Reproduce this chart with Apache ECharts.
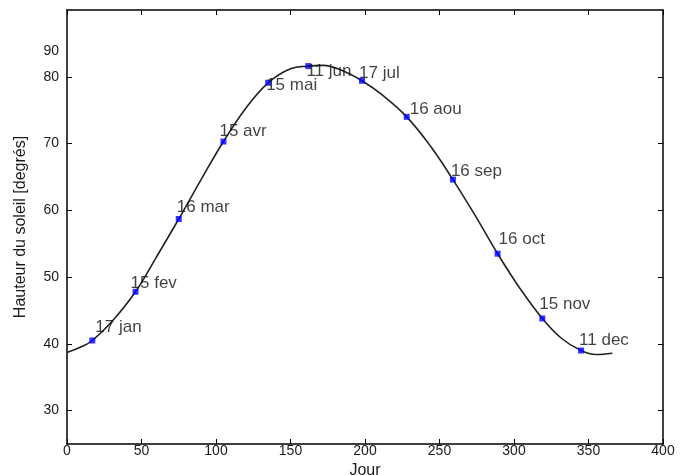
<!DOCTYPE html>
<html><head><meta charset="utf-8">
<script src="https://cdn.jsdelivr.net/npm/echarts@6/dist/echarts.min.js"></script>
<style>html,body{margin:0;padding:0;background:#fff}#c{width:681px;height:475px}</style>
</head><body><div id="c"></div>
<script>
// Curve (sun elevation vs day of year)
const curveDays    = [0, 10, 17, 30, 46, 60, 75, 90, 105, 120, 135, 150, 162, 172, 185, 198, 212, 228, 244, 259, 274, 289, 304, 319, 332, 345, 355, 366];
const curveHeights = [38.7, 39.6, 40.5, 43.3, 47.8, 53.0, 58.7, 64.6, 70.3, 75.3, 79.1, 81.2, 81.6, 81.7, 80.9, 79.4, 77.2, 74.0, 69.6, 64.6, 59.2, 53.5, 48.3, 43.8, 40.8, 39.0, 38.4, 38.6];
// Marked dates
const markDays    = [17, 46, 75, 105, 135, 162, 198, 228, 259, 289, 319, 345];
const markHeights = [40.5, 47.8, 58.7, 70.3, 79.1, 81.6, 79.4, 74.0, 64.6, 53.5, 43.8, 39.0];
const markLabels  = ['17 jan', '15 fev', '16 mar', '15 avr', '15 mai', '11 jun', '17 jul', '16 aou', '16 sep', '16 oct', '15 nov', '11 dec'];
// Tick labels
const xTickValues = [0, 50, 100, 150, 200, 250, 300, 350, 400];
const yTickValues = [30, 40, 50, 60, 70, 80];
const yExtraLabel = '90';
const xName = 'Jour';
const yName = 'Hauteur du soleil [degrés]';

// label nudges (px) relative to marker centre: [dx to left edge, dy to text centre]
const labelNudge = [[3,-13],[-5,-8],[-2,-12],[-4,-10],[-2,3],[-2,5],[-3,-7],[3,-8],[-2,-8],[1,-14],[-3,-14],[-2,-10]];

const FONT = 'Liberation Sans, Arial, sans-serif';
const TXT = '#1a1a1a';
const axisLine = {show: true, onZero: false, lineStyle: {color: '#000', width: 1.5}};

const chart = echarts.init(document.getElementById('c'), null, {renderer: 'canvas'});
const markerSize = 6;
chart.setOption({
  animation: false,
  backgroundColor: '#fff',
  grid: {left: 67, right: 18, top: 10, bottom: 31, containLabel: false, outerBoundsMode: 'none'},
  xAxis: [{
    type: 'value', position: 'bottom', min: 0, max: 400, interval: 50,
    axisLine: axisLine,
    axisTick: {show: true, inside: true, length: 5, lineStyle: {color: '#000', width: 1}},
    axisLabel: {show: true, margin: 0, color: TXT, fontFamily: FONT, fontSize: 14,
      customValues: xTickValues},
    splitLine: {show: false},
    name: xName, nameLocation: 'middle', nameGap: 16,
    nameTextStyle: {color: TXT, fontFamily: FONT, fontSize: 16}
  }, {
    type: 'value', position: 'top', min: 0, max: 400, interval: 50,
    axisLine: axisLine,
    axisTick: {show: true, inside: true, length: 5, lineStyle: {color: '#000', width: 1}},
    axisLabel: {show: false}, splitLine: {show: false}
  }],
  yAxis: [{
    type: 'value', position: 'left', min: 25, max: 90,
    axisLine: axisLine,
    axisTick: {show: true, inside: true, length: 5, customValues: yTickValues, lineStyle: {color: '#000', width: 1}},
    axisLabel: {show: true, margin: 8, color: TXT, fontFamily: FONT, fontSize: 14, customValues: yTickValues},
    splitLine: {show: false},
    name: yName, nameLocation: 'middle', nameGap: 38, nameRotate: 90,
    nameTextStyle: {color: TXT, fontFamily: FONT, fontSize: 16}
  }, {
    type: 'value', position: 'right', min: 25, max: 90,
    axisLine: axisLine,
    axisTick: {show: true, inside: true, length: 5, customValues: yTickValues, lineStyle: {color: '#000', width: 1}},
    axisLabel: {show: false}, splitLine: {show: false}
  }],
  series: [{
    type: 'line', xAxisIndex: 0, yAxisIndex: 0,
    data: curveDays.map((d, i) => [d, curveHeights[i]]),
    smooth: 0.4, showSymbol: false, symbol: 'none',
    lineStyle: {color: '#222', width: 1.6}, z: 2
  }, {
    type: 'scatter', xAxisIndex: 0, yAxisIndex: 0,
    data: markDays.map((d, i) => ({
      value: [d, markHeights[i]],
      label: {position: [markerSize / 2 + labelNudge[i][0], markerSize / 2 + labelNudge[i][1]]}
    })),
    symbol: 'rect', symbolSize: markerSize,
    itemStyle: {color: '#0000ff'},
    label: {show: true, align: 'left', verticalAlign: 'middle', color: '#111',
      fontFamily: FONT, fontSize: 17,
      formatter: p => markLabels[p.dataIndex]},
    z: 3
  }],
  graphic: [{
    type: 'text', x: 59, y: 51,
    style: {text: yExtraLabel, fill: TXT, font: '14px ' + FONT, align: 'right', verticalAlign: 'middle'}
  }]
});
</script></body></html>
